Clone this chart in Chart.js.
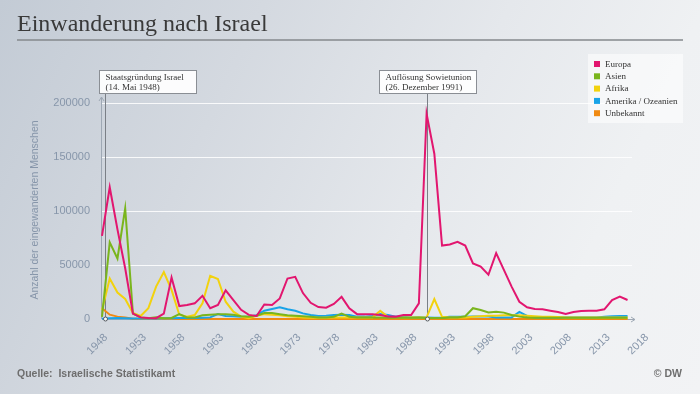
<!DOCTYPE html>
<html>
<head>
<meta charset="utf-8">
<script src="https://cdn.jsdelivr.net/npm/chart.js@4/dist/chart.umd.min.js"></script>
<style>
  body { margin: 0; }
  #wrap {
    width: 700px; height: 394px;
    background: linear-gradient(115deg, #c3cbd5 0%, #d4d9e0 30%, #e5e8ec 58%, #eff1f3 80%, #f2f3f5 100%);
  }
  canvas { display: block; }
</style>
</head>
<body>
<div id="wrap"><canvas id="chart" width="700" height="394"></canvas></div>
<script>
// years on the axis (data runs 1948-2016, axis to 2018)
let years = [];
for (let y = 1948; y <= 2018; y++) years.push(String(y));

// immigrants per year
let europa = [77000,122000,83000,47000,5000,1500,1000,800,5000,38500,
  12000,13000,14500,21500,10000,13000,26500,17500,8500,3800,
  2800,13500,13000,19000,37500,39000,24000,15000,11000,10500,
  14000,20500,10000,4500,4300,4300,3700,2300,2200,3700,
  3700,14500,190000,153000,68000,69000,71500,68000,51500,48500,
  41000,61000,45500,30000,16000,10800,9300,9000,7700,6500,
  4600,6500,7400,7700,7700,9000,17600,20700,17600];
let asien = [2000,71000,56000,102500,5000,1500,700,1500,800,1000,
  4500,1500,1500,3500,4000,4500,4500,4000,2500,2000,
  3000,5500,5500,4500,3500,3000,2500,2000,1500,1500,
  2000,5000,2000,1500,1500,1500,1500,1200,1200,1200,
  1200,1500,1000,1000,1000,1500,1500,2500,10000,8300,
  6000,6800,5900,3700,2200,1500,1200,1200,1200,1200,
  1200,1200,1200,1200,1200,1200,1200,1200,1200];
let afrika = [8000,37500,24500,18500,5500,2800,10000,30000,43500,27000,
  4000,2200,3700,14500,40000,37000,16000,6800,2200,800,
  3000,4500,4000,3500,2500,2000,1500,1200,1200,1200,
  1300,1300,1300,1500,1500,1500,7500,2000,1500,1300,
  1300,1300,1500,18500,2000,1500,1500,1500,2000,2500,
  3000,3000,3500,3500,3500,3000,2500,2000,2000,1800,
  1500,1500,1500,1500,1500,1500,1500,1500,1500];
let amerika = [300,800,1000,800,500,400,500,500,800,800,
  1000,1200,1000,1200,1500,4600,2800,2500,2000,2000,
  3500,7700,9300,10800,9000,7700,5200,3700,2800,3100,
  3700,4000,3700,2200,2200,2800,4600,3700,2200,2000,
  1500,1500,1500,1200,1500,2000,2000,2000,2200,2200,
  2200,1500,1500,1500,6500,2800,1500,1500,1500,1500,
  1500,1500,1500,1500,1500,2000,2500,2800,2800];
let unbekannt = [10000,4000,2200,1500,300,200,200,200,200,200,
  0,0,0,0,0,0,0,0,0,0,
  0,0,0,0,0,0,0,0,0,0,
  0,0,0,0,0,0,0,0,0,0,
  0,0,0,0,0,0,0,0,0,0,
  0,0,0,0,0,0,0,0,0,0,
  0,0,0,0,0,0,0,0,0];

let seriesNames = ['Europa', 'Asien', 'Afrika', 'Amerika / Ozeanien', 'Unbekannt'];
let seriesData = [europa, asien, afrika, amerika, unbekannt];
let seriesColors = ['#e2166f', '#7ab51d', '#f2d20e', '#18a3e8', '#f08a12'];
let yTicks = [0, 50000, 100000, 150000, 200000];

let events = [
  { year: '1948', lines: ['Staatsgründung Israel', '(14. Mai 1948)'] },
  { year: '1990', lines: ['Auflösung Sowietunion', '(26. Dezember 1991)'] }
];

let tickColor = '#8796aa';
let sans = '"Liberation Sans", Arial, sans-serif';
let serif = '"Liberation Serif", "Times New Roman", serif';

// wanted plot area in the 700x394 picture
let target = { left: 102, top: 103, right: 643, bottom: 319 };

function arrow(ctx, x, y, dir) {
  ctx.beginPath();
  if (dir == 'up') {
    ctx.moveTo(x - 2.5, y + 4); ctx.lineTo(x, y); ctx.lineTo(x + 2.5, y + 4);
  } else {
    ctx.moveTo(x - 4, y - 2.5); ctx.lineTo(x, y); ctx.lineTo(x - 4, y + 2.5);
  }
  ctx.stroke();
}

let decor = {
  id: 'decor',
  beforeDatasetsDraw(chart) {
    let ctx = chart.ctx;
    let ca = chart.chartArea;
    let ys = chart.scales.y;
    let xs = chart.scales.x;
    ctx.save();
    // white grid lines
    ctx.strokeStyle = 'rgba(255,255,255,0.85)';
    ctx.lineWidth = 1;
    for (let v of yTicks) {
      let y = Math.round(ys.getPixelForValue(v)) + 0.5;
      ctx.beginPath(); ctx.moveTo(ca.left, y); ctx.lineTo(632, y); ctx.stroke();
    }
    // axes with small arrows
    ctx.strokeStyle = '#9ea8b4';
    ctx.beginPath(); ctx.moveTo(ca.left - 0.5, ca.bottom); ctx.lineTo(ca.left - 0.5, ca.top - 6); ctx.stroke();
    arrow(ctx, ca.left - 0.5, ca.top - 6, 'up');
    ctx.beginPath(); ctx.moveTo(ca.left, ca.bottom + 0.5); ctx.lineTo(635, ca.bottom + 0.5); ctx.stroke();
    arrow(ctx, 635, ca.bottom + 0.5, 'right');
    // event lines
    ctx.strokeStyle = '#7a7f86';
    events.forEach((ev, i) => {
      let x = Math.round(xs.getPixelForValue(years.indexOf(ev.year))) + (i == 0 ? 3.5 : 0.5);
      ctx.beginPath(); ctx.moveTo(x, 94); ctx.lineTo(x, ca.bottom); ctx.stroke();
    });
    ctx.restore();
  },
  afterDraw(chart) {
    let ctx = chart.ctx;
    let ca = chart.chartArea;
    let xs = chart.scales.x;
    ctx.save();
    // title
    ctx.fillStyle = '#3a3a3a';
    ctx.font = '24px ' + serif;
    ctx.textBaseline = 'alphabetic';
    ctx.fillText('Einwanderung nach Israel', 17, 31);
    ctx.strokeStyle = '#85888c';
    ctx.lineWidth = 1.5;
    ctx.beginPath(); ctx.moveTo(17, 40); ctx.lineTo(683, 40); ctx.stroke();

    // y axis title
    ctx.save();
    ctx.translate(35, 210);
    ctx.rotate(-Math.PI / 2);
    ctx.fillStyle = tickColor;
    ctx.font = '10.5px ' + sans;
    ctx.textAlign = 'center';
    ctx.textBaseline = 'middle';
    ctx.fillText('Anzahl der eingewanderten Menschen', 0, 0);
    ctx.restore();

    // event markers and boxes
    ctx.lineWidth = 1;
    events.forEach((ev, i) => {
      let x = Math.round(xs.getPixelForValue(years.indexOf(ev.year))) + (i == 0 ? 3.5 : 0.5);
      ctx.fillStyle = '#ffffff';
      ctx.strokeStyle = '#555a60';
      ctx.beginPath(); ctx.arc(x, ca.bottom, 2, 0, Math.PI * 2); ctx.fill(); ctx.stroke();
      let w = 97, h = 23;
      let bx = i == 0 ? x - 7 : x - w / 2;
      bx = Math.round(bx) + 0.5;
      ctx.fillStyle = 'rgba(255,255,255,0.92)';
      ctx.strokeStyle = '#8a8e94';
      ctx.fillRect(bx, 70.5, w, h);
      ctx.strokeRect(bx, 70.5, w, h);
      ctx.fillStyle = '#333';
      ctx.font = '9px ' + serif;
      ctx.textBaseline = 'middle';
      ctx.textAlign = 'left';
      ctx.fillText(ev.lines[0], bx + 6, 77.5);
      ctx.fillText(ev.lines[1], bx + 6, 87.5);
    });

    // legend
    ctx.fillStyle = 'rgba(255,255,255,0.55)';
    ctx.fillRect(588, 54, 95, 69);
    ctx.font = '9px ' + serif;
    ctx.textBaseline = 'middle';
    seriesNames.forEach((name, i) => {
      let y = 64 + i * 12.3;
      ctx.fillStyle = seriesColors[i];
      ctx.fillRect(594, y - 3, 6, 6);
      ctx.fillStyle = '#333';
      ctx.fillText(name, 605, y + 0.5);
    });

    // footer
    ctx.fillStyle = '#6e6e6e';
    ctx.font = 'bold 10.5px ' + sans;
    ctx.textBaseline = 'middle';
    ctx.fillText('Quelle:  Israelische Statistikamt', 17, 374);
    ctx.textAlign = 'right';
    ctx.fillText('© DW', 682, 374);
    ctx.restore();
  }
};

let chart = new Chart(document.getElementById('chart'), {
  type: 'line',
  data: {
    labels: years,
    datasets: seriesNames.map((name, i) => ({
      label: name,
      data: seriesData[i],
      borderColor: seriesColors[i],
      backgroundColor: seriesColors[i],
      borderWidth: 2,
      pointRadius: 0,
      tension: 0,
      clip: 4
    }))
  },
  options: {
    responsive: false,
    animation: false,
    devicePixelRatio: 1,
    layout: { padding: { left: 0, right: 57, top: 103, bottom: 0 } },
    plugins: { legend: { display: false }, tooltip: { enabled: false } },
    scales: {
      x: {
        type: 'category',
        offset: false,
        grid: { display: false, drawTicks: false },
        border: { display: false },
        ticks: {
          autoSkip: false, minRotation: 45, maxRotation: 45, padding: 12, labelOffset: 4,
          color: tickColor, font: { family: sans, size: 11 },
          callback: function(v, i) { return i % 5 == 0 ? years[i] : ''; }
        },
        afterFit: s => { s.height = 75; }
      },
      y: {
        min: 0, max: 200000,
        afterBuildTicks: s => { s.ticks = yTicks.map(v => ({ value: v })); },
        grid: { display: false, drawTicks: false },
        border: { display: false },
        ticks: {
          padding: 12, color: tickColor, font: { family: sans, size: 11 },
          callback: v => String(v)
        },
        afterFit: s => { s.width = 90; }
      }
    }
  },
  plugins: [decor]
});

// nudge layout padding so the plot area lands where it is in the picture
for (let k = 0; k < 3; k++) {
  let ca = chart.chartArea;
  let p = chart.options.layout.padding;
  p.left += target.left - ca.left;
  p.top += target.top - ca.top;
  p.right += ca.right - target.right;
  p.bottom += ca.bottom - target.bottom;
  chart.update();
}
</script>
</body>
</html>
